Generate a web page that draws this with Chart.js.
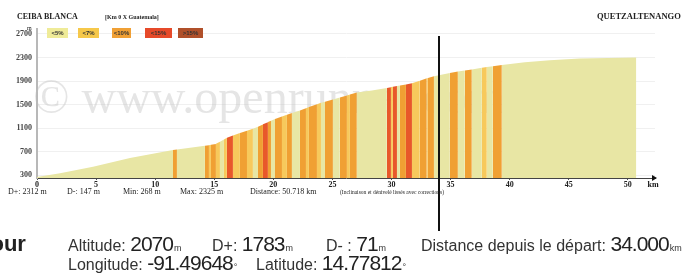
<!DOCTYPE html>
<html lang="fr">
<head>
<meta charset="UTF-8">
<title>Profil altimétrique Ceiba Blanca - Quetzaltenango</title>
<script src="https://cdn.jsdelivr.net/npm/chart.js"></script>
<style>
  html, body { margin: 0; padding: 0; background: #fff; }
  #wrap { position: relative; width: 683px; height: 276px; overflow: hidden; }
  #profile { position: absolute; left: 0; top: 0; }
  .t { position: absolute; white-space: nowrap; font-family: "Liberation Serif", serif; color: #222; }
  .box { position: absolute; top: 28px; height: 10px; font: bold 6px "Liberation Sans", sans-serif;
         color: #333; text-align: center; line-height: 10px; }
  .info { position: absolute; white-space: nowrap; font-family: "Liberation Sans", Arial, sans-serif;
          color: #333; line-height: 20px; }
  .info .k { font-size: 16px; }
  .info .v { font-size: 21px; letter-spacing: -1px; color: #222; }
  .info .u { font-size: 9px; margin-left: 1px; }
</style>
</head>
<body>
<div id="wrap">
  <canvas id="profile" width="683" height="276"></canvas>

  <!-- top labels + legend -->
  <div class="t" style="left:17px; top:12px; font-size:8px; font-weight:bold;">CEIBA BLANCA</div>
  <div class="t" style="left:105px; top:14px; font-size:6px; font-weight:bold;">[Km 0 X Guatemala]</div>
  <div class="t" style="left:597px; top:11px; font-size:8.5px; font-weight:bold;">QUETZALTENANGO</div>
  <div class="t" style="left:27px; top:25px; font-size:6px;">m</div>
  <div id="legend"></div>

  <!-- stats under the axis -->
  <div class="t" style="left:8px; top:187px; font-size:8px;">D+: 2312 m</div>
  <div class="t" style="left:67px; top:187px; font-size:8px;">D-: 147 m</div>
  <div class="t" style="left:123px; top:187px; font-size:8px;">Min: 268 m</div>
  <div class="t" style="left:180px; top:187px; font-size:8px;">Max: 2325 m</div>
  <div class="t" style="left:250px; top:187px; font-size:8px;">Distance: 50.718 km</div>
  <div class="t" style="left:340px; top:189px; font-size:5.5px;">(Inclinaison et dénivelé lissés avec corrections)</div>

  <!-- cursor info -->
  <div class="info" style="left:-45px; top:234px; font-size:22px; font-weight:bold; color:#222;">Retour</div>
  <div class="info" style="left:68px; top:234px;"><span class="k">Altitude: </span><span class="v">2070</span><span class="u">m</span></div>
  <div class="info" style="left:212px; top:234px;"><span class="k">D+: </span><span class="v">1783</span><span class="u">m</span></div>
  <div class="info" style="left:326px; top:234px;"><span class="k">D- : </span><span class="v">71</span><span class="u">m</span></div>
  <div class="info" style="left:421px; top:234px;"><span class="k">Distance depuis le départ: </span><span class="v">34.000</span><span class="u">km</span></div>
  <div class="info" style="left:68px; top:253px;"><span class="k">Longitude: </span><span class="v">-91.49648</span><span class="u">°</span></div>
  <div class="info" style="left:256px; top:253px;"><span class="k">Latitude: </span><span class="v">14.77812</span><span class="u">°</span></div>
</div>

<script>
// profile breakpoints: distance from start (km) and altitude (m)
const distKm = [0, 1.95, 4.74, 7.87, 11.51, 11.84, 14.21, 14.55, 14.72, 15.14,
  15.48, 15.82, 16.07, 16.58, 17.17, 17.77, 18.27, 18.70, 19.12, 19.54,
  19.80, 20.14, 20.73, 21.15, 21.57, 22.25, 22.76, 23.01, 23.69, 24.03,
  24.37, 25.04, 25.63, 26.23, 26.48, 27.07, 28.34, 29.61, 29.95, 30.12,
  30.46, 30.71, 31.22, 31.73, 32.40, 32.99, 33.08, 33.59, 34.94, 35.62,
  36.21, 36.80, 37.65, 38.07, 38.58, 39.34, 41.29, 43.40, 45.94, 50.718];
const altM = [268, 330, 440, 590, 725, 734, 798, 809, 815, 830,
  868, 906, 935, 974, 1014, 1054, 1089, 1123, 1162, 1200,
  1224, 1255, 1298, 1327, 1355, 1400, 1438, 1456, 1506, 1530,
  1549, 1587, 1620, 1655, 1670, 1705, 1740, 1780, 1796, 1803,
  1814, 1822, 1839, 1861, 1906, 1945, 1950, 1983, 2037, 2060,
  2079, 2098, 2125, 2138, 2150, 2174, 2220, 2255, 2285, 2300];
// gradient class of each segment (0: <5%, 1: <7%, 2: <10%, 3: <15%, 4: >15%)
const gradeClass = [0, 0, 0, 0, 2, 0, 2, 1, 2, 1,
  0, 1, 3, 1, 2, 1, 0, 2, 3, 2,
  0, 2, 1, 2, 0, 2, 1, 2, 1, 0,
  2, 0, 2, 1, 2, 0, 0, 3, 1, 3,
  0, 2, 3, 1, 2, 1, 2, 0, 2, 0,
  2, 0, 1, 0, 2, 0, 0, 0, 0];
const gradeLabels = ["<5%", "<7%", "<10%", "<15%", ">15%"];
const gradeColors = ["#e8e6a4", "#f7c95c", "#f0a033", "#e8582a", "#b8561f"];
const legendColors = ["#efeb98", "#f6c84a", "#f0a035", "#e64a2a", "#b0502a"];
const yTicks = [300, 700, 1100, 1500, 1900, 2300, 2700];
const cursorKm = 34.0;

// legend boxes
const legendX = [[47, 21], [78, 21], [112, 19], [145, 27], [178, 25]];
const legend = document.getElementById("legend");
gradeLabels.forEach((lab, i) => {
  const d = document.createElement("div");
  d.className = "box";
  d.style.left = legendX[i][0] + "px";
  d.style.width = legendX[i][1] + "px";
  d.style.background = legendColors[i];
  d.textContent = lab;
  legend.appendChild(d);
});

const tickFont = { family: "Liberation Serif", size: 8, weight: "bold" };

// watermark behind the profile
const watermark = {
  id: "watermark",
  beforeDatasetsDraw(chart) {
    const ctx = chart.ctx;
    ctx.save();
    ctx.fillStyle = "rgba(190,190,190,0.4)";
    ctx.font = "48px 'Liberation Serif'";
    ctx.textBaseline = "alphabetic";
    ctx.fillText("\u00a9 www.openrunner.com", 33, 113);
    ctx.restore();
  }
};

// cursor line, arrow at the end of the axis and unit
const extras = {
  id: "extras",
  afterDraw(chart) {
    const ctx = chart.ctx;
    const xs = chart.scales.x;
    const area = chart.chartArea;
    ctx.save();
    const cx = Math.round(xs.getPixelForValue(cursorKm));
    ctx.strokeStyle = "#111";
    ctx.lineWidth = 2;
    ctx.beginPath();
    ctx.moveTo(cx, 36);
    ctx.lineTo(cx, 231);
    ctx.stroke();

    ctx.fillStyle = "#111";
    ctx.beginPath();
    ctx.moveTo(area.right + 2, area.bottom);
    ctx.lineTo(area.right - 3, area.bottom - 3);
    ctx.lineTo(area.right - 3, area.bottom + 3);
    ctx.closePath();
    ctx.fill();
    ctx.font = "bold 8px 'Liberation Serif'";
    ctx.textAlign = "center";
    ctx.fillText("km", area.right - 2, area.bottom + 9);
    ctx.restore();
  }
};

new Chart(document.getElementById("profile"), {
  type: "line",
  data: {
    datasets: [{
      data: distKm.map((d, i) => ({ x: d, y: altM[i] })),
      fill: "start",
      borderWidth: 0,
      borderColor: "rgba(0,0,0,0)",
      backgroundColor: gradeColors[0],
      pointRadius: 0,
      tension: 0,
      segment: {
        backgroundColor: c => gradeColors[gradeClass[c.p0DataIndex]]
      }
    }]
  },
  options: {
    responsive: false,
    animation: false,
    layout: { padding: { left: 0, top: 29, right: 28, bottom: 83 } },
    plugins: { legend: { display: false }, tooltip: { enabled: false } },
    scales: {
      x: {
        type: "linear",
        min: 0,
        max: 52.3,
        afterFit(s) { s.height = 15; },
        ticks: { stepSize: 5, includeBounds: false, font: tickFont, color: "#222",
                 padding: 0, maxRotation: 0, autoSkip: false },
        grid: { drawOnChartArea: false, tickLength: 2, color: "#555" },
        border: { color: "#444", width: 1 }
      },
      y: {
        min: 250,
        max: 2785,
        afterFit(s) { s.width = 37; },
        afterBuildTicks(s) { s.ticks = yTicks.map(v => ({ value: v })); },
        ticks: { font: tickFont, color: "#444", padding: 5, callback: v => String(v) },
        grid: { color: "#f0f0f0", drawTicks: false },
        border: { color: "#b8b8b8", width: 2 }
      }
    }
  },
  plugins: [watermark, extras]
});
</script>
</body>
</html>
